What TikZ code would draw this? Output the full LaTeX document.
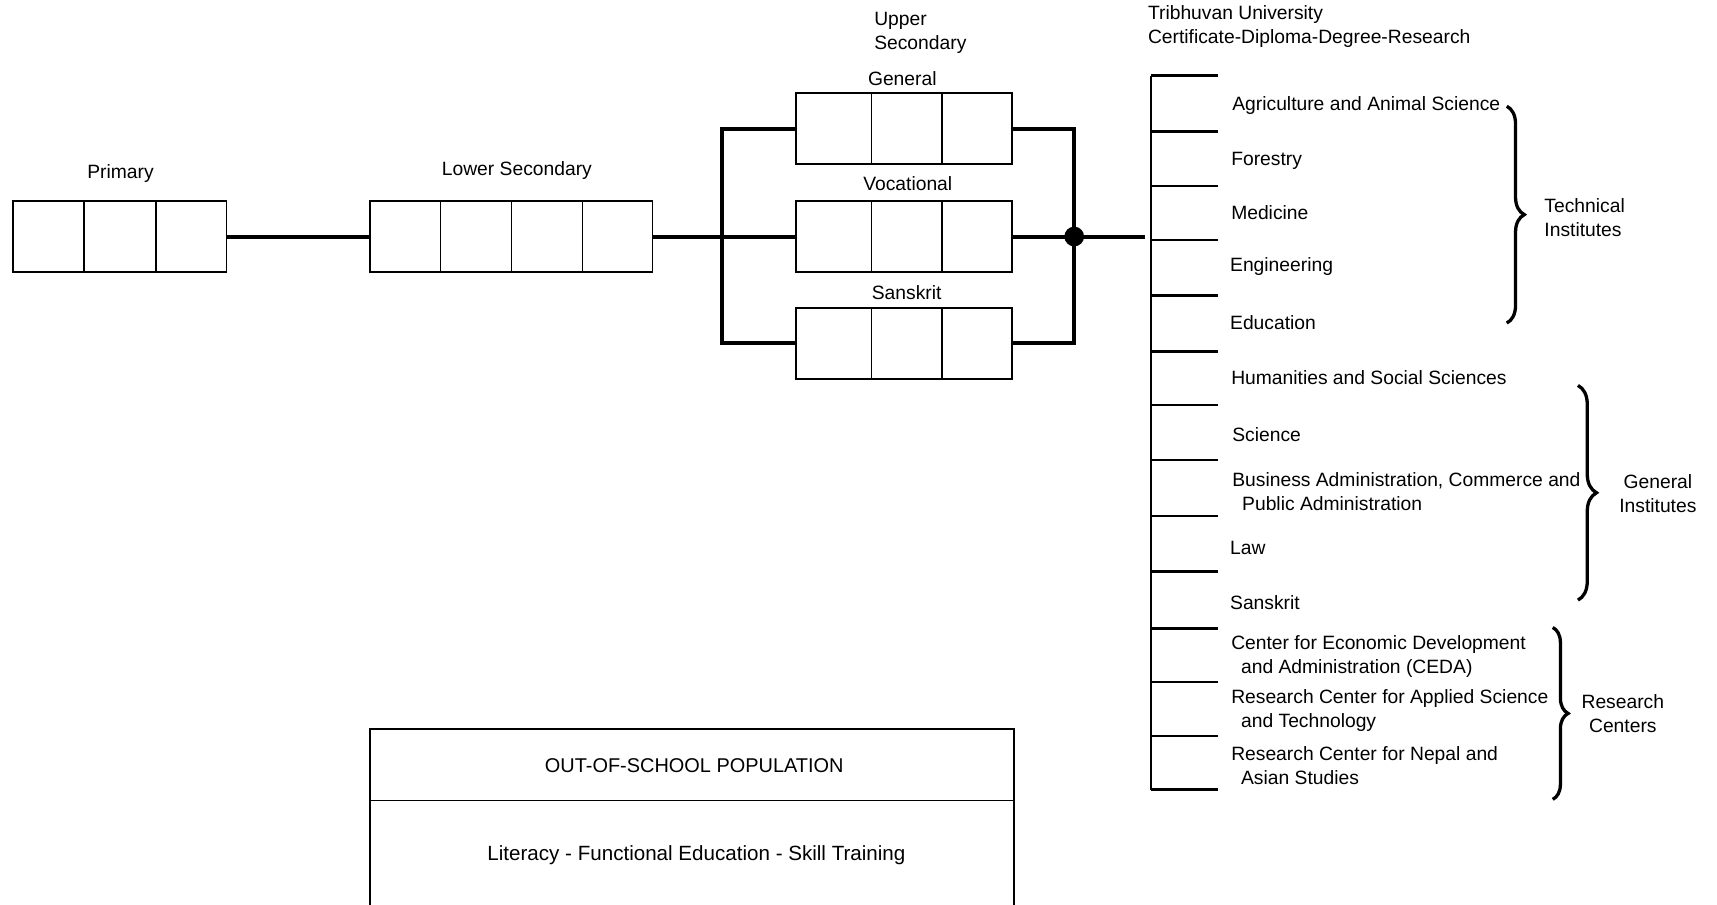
\documentclass[tikz,border=0pt]{standalone}
\usepackage{fontspec}
\setmainfont{Liberation Sans}
\usetikzlibrary{calc,decorations.pathreplacing}
\begin{document}
\begin{tikzpicture}[x=0.5pt,y=-0.5pt,
  every node/.style={font=\fontsize{8.8}{11}\selectfont, inner sep=0pt},
  cellbox/.style={draw, line width=0.75pt, minimum height=32.5pt},
  conn/.style={line width=1.8pt},
  tickline/.style={line width=1.1pt},
  lbl/.style={anchor=west, align=left},
  clbl/.style={align=center},
  brc/.style={decorate, decoration={brace, amplitude=#1}, line width=1.5pt}
]
\useasboundingbox (0,0) rectangle (1568,826);

% school boxes
\node[cellbox, minimum width=97.5pt] (prim) at (109.5,216) {};
\node[cellbox, minimum width=129pt] (lsec) at (467,216) {};
\node[cellbox, minimum width=98.5pt] (gen) at (825.5,117.5) {};
\node[cellbox, minimum width=98.5pt] (voc) at (825.5,216) {};
\node[cellbox, minimum width=98.5pt] (sans) at (825.5,313.5) {};

\foreach \f in {0.3333,0.6667}{
  \draw[line width=0.75pt] ($(prim.north west)!\f!(prim.north east)$) -- ($(prim.south west)!\f!(prim.south east)$);}
\foreach \f in {0.25,0.5,0.75}{
  \draw[line width=0.75pt] ($(lsec.north west)!\f!(lsec.north east)$) -- ($(lsec.south west)!\f!(lsec.south east)$);}
\foreach \b in {gen,voc,sans}{
  \foreach \f in {0.35,0.675}{
    \draw[line width=0.75pt] ($(\b.north west)!\f!(\b.north east)$) -- ($(\b.south west)!\f!(\b.south east)$);}}

% labels
\node (lprim) at (110,158) {Primary};
\node (llsec) at (472,156) {Lower Secondary};
\node[lbl] (lupper) at (798,30) {Upper\\Secondary};
\node (lgen) at (824,72) {General};
\node (lvoc) at (829,168) {Vocational};
\node (lsans) at (828,267) {Sanskrit};

% connectors
\coordinate (lbT) at (659,117.5);
\coordinate (lbB) at (659,313.5);
\coordinate (rbT) at (981,117.5);
\coordinate (rbB) at (981,313.5);
\coordinate (stub) at (1046,216);
\draw[conn] (prim.east) -- (lsec.west);
\draw[conn] (lsec.east) -- (voc.west);
\draw[conn] (gen.west) -- (lbT) -- (lbB) -- (sans.west);
\draw[conn] (gen.east) -- (rbT) -- (rbB) -- (sans.east);
\draw[conn] (voc.east) -- (stub);
\node[circle, fill=black, minimum size=9pt] (dot) at (981,216) {};

% university
\node[lbl] (uni) at (1048,24) {Tribhuvan University\\Certificate-Diploma-Degree-Research};
\draw[tickline] (1051,69) -- (1051,721);
\foreach \y in {69,120,170,219,270,321,370,420,471,522,574,623,672,721}{
  \draw[tickline] (1051,\y) -- (1112,\y);}

\node[lbl] (agr) at (1125,96) {Agriculture and Animal Science};
\node[lbl] (for) at (1124,147) {Forestry};
\node[lbl] (med) at (1124,194) {Medicine};
\node[lbl] (eng) at (1123,243) {Engineering};
\node[lbl] (edu) at (1123,295) {Education};
\node[lbl] (hum) at (1124,345) {Humanities and Social Sciences};
\node[lbl] (sci) at (1125,397) {Science};
\node[lbl] (bus) at (1125,449) {Business Administration, Commerce and\\\hspace{4.5pt}Public Administration};
\node[lbl] (law) at (1123,500) {Law};
\node[lbl] (usan) at (1123,550) {Sanskrit};
\node[lbl] (ceda) at (1124,599.5) {Center for Economic Development\\\hspace{4.5pt}and Administration (CEDA)};
\node[lbl] (rcas) at (1124,648.5) {Research Center for Applied Science\\\hspace{4.5pt}and Technology};
\node[lbl] (rcna) at (1124,699.5) {Research Center for Nepal and\\\hspace{4.5pt}Asian Studies};

% braces
\draw[brc=8pt] (1376,97) -- (1376,295);
\draw[brc=8.5pt] (1441,352) -- (1441,548);
\draw[brc=7pt] (1418,573) -- (1418,730);
\node[lbl] (tech) at (1410,198.5) {Technical\\Institutes};
\node[clbl] (geni) at (1514,451) {General\\Institutes};
\node[clbl] (resc) at (1482,652) {Research\\Centers};

% out of school
\draw[line width=0.75pt] (338,840) -- (338,666) -- (926,666) -- (926,840);
\draw[line width=0.75pt] (338,731) -- (926,731);
\node (oos) at (634,699) {\fontsize{9.1}{11}\selectfont OUT-OF-SCHOOL POPULATION};
\node (lit) at (636,781) {\fontsize{9.4}{11}\selectfont Literacy - Functional Education - Skill Training};
\end{tikzpicture}
\end{document}
